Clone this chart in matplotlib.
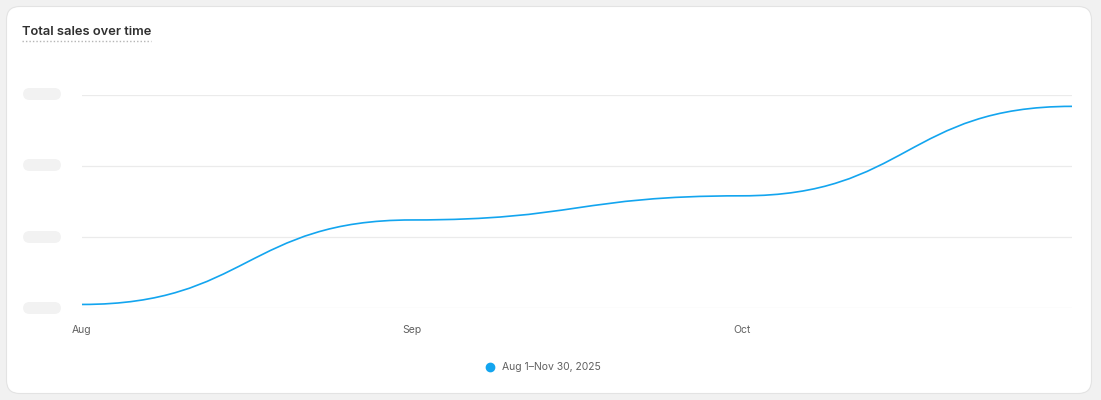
import matplotlib
matplotlib.use('Agg')
from matplotlib import pyplot as plt
from matplotlib.path import Path
from matplotlib.patches import PathPatch, FancyBboxPatch

# monthly totals (y labels are hidden in the reference, units = one gridline step)
months = ['Aug', 'Sep', 'Oct', 'Nov']
sales = [0.05, 1.24, 1.58, 2.84]
tick_labels = ['Aug', 'Sep', 'Oct']
legend_label = 'Aug 1\u2013Nov 30, 2025'

plt.rcParams['font.family'] = ['Inter', 'DejaVu Sans']

W, H = 1101, 400
fig = plt.figure(figsize=(W / 100, H / 100), dpi=100)
fig.patch.set_facecolor('#f1f1f1')

# white card
card = FancyBboxPatch((6.5 / W, 6.5 / H), 1085 / W, 387 / H,
                      boxstyle='round,pad=0,rounding_size=0.012',
                      transform=fig.transFigure, facecolor='white',
                      edgecolor='#e3e3e3', linewidth=0.8,
                      mutation_aspect=W / H, zorder=0)
fig.patches.append(card)

ax = fig.add_axes([82 / W, 92 / H, 990 / W, 213 / H])
ax.set_zorder(3)
ax.set_facecolor('none')
x = list(range(len(months)))
ax.set_xlim(0, 3)
ax.set_ylim(0, 3)

# bump-x style curve: flat at every point, S between them
verts = [(x[0], sales[0])]
codes = [Path.MOVETO]
for i in range(len(x) - 1):
    xm = (x[i] + x[i + 1]) / 2
    verts += [(xm, sales[i]), (xm, sales[i + 1]), (x[i + 1], sales[i + 1])]
    codes += [Path.CURVE4] * 3
ax.add_patch(PathPatch(Path(verts, codes), facecolor='none',
                       edgecolor='#13a5ef', linewidth=1.2, zorder=3,
                       clip_on=False))

ax.set_yticks([0, 1, 2, 3])
ax.set_yticklabels([])
ax.grid(axis='y', color='#ebebeb', linewidth=0.9)
ax.set_xticks([0, 1, 2])
ax.set_xticklabels(tick_labels, fontsize=7.5, color='#616161')
ax.tick_params(axis='both', length=0, pad=12)
for s in ax.spines.values():
    s.set_visible(False)

# blurred placeholder y labels
for yp in [94, 165, 237, 308]:
    pill = FancyBboxPatch((23 / W, (H - yp - 6) / H), 38 / W, 12 / H,
                          boxstyle='round,pad=0,rounding_size=0.006',
                          transform=fig.transFigure, facecolor='#f2f2f2',
                          edgecolor='none', mutation_aspect=W / H, zorder=1)
    fig.patches.append(pill)

# title with dotted underline
fig.text(22 / W, (H - 32) / H, 'Total sales over time', fontsize=9.3,
         fontweight='semibold', color='#303030', va='center', ha='left')
fig.add_artist(plt.Line2D([22 / W, 151 / W], [(H - 40.5) / H, (H - 40.5) / H],
                          transform=fig.transFigure, color='#b5b5b5',
                          linewidth=1, linestyle=(0, (1, 1.5))))

# legend
fig.add_artist(plt.Line2D([490 / W], [(H - 367) / H], marker='o',
                          markersize=6, color='#13a5ef',
                          transform=fig.transFigure))
fig.text(502 / W, (H - 367) / H, legend_label, fontsize=7.5,
         color='#616161', va='center', ha='left')

fig.savefig('out.png', dpi=100, facecolor=fig.get_facecolor())
